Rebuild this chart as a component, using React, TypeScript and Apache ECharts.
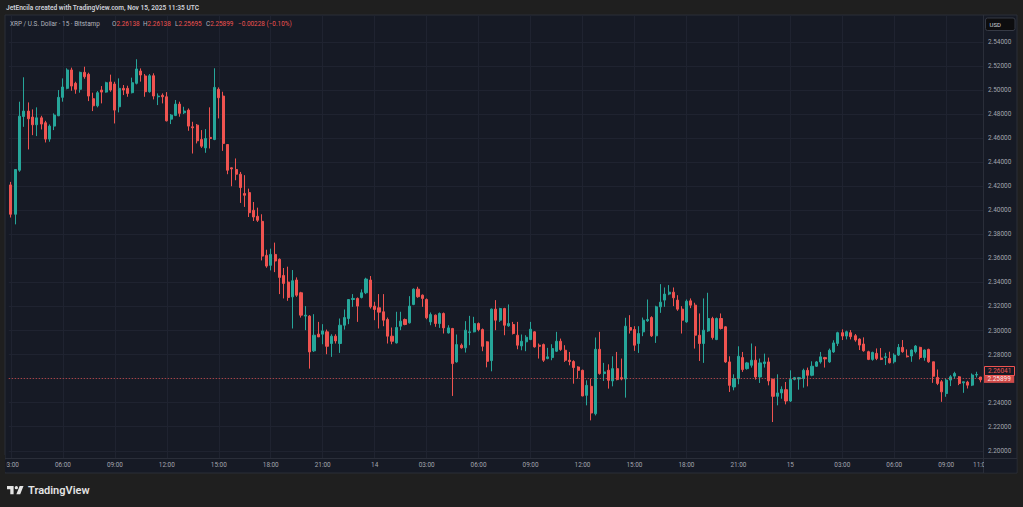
import { useEffect, useRef } from "react";
import * as echarts from "echarts";

// 15-minute XRP/USD candles, Nov 13 03:00 → Nov 15 11:00
const OPEN = [
  2.4211, 2.3967, 2.4333, 2.478, 2.4825, 2.4775, 2.4711, 2.4769, 2.4728, 2.4592,
  2.47, 2.4786, 2.4939, 2.5014, 2.5167, 2.5056, 2.5006, 2.5147, 2.5131, 2.4928,
  2.4869, 2.5, 2.4983, 2.5067, 2.505, 2.4861, 2.5014, 2.5014, 2.4978, 2.5056,
  2.5158, 2.5117, 2.4986, 2.5119, 2.4944, 2.4956, 2.4944, 2.4758, 2.4789, 2.4883,
  2.4811, 2.4833, 2.4694, 2.4708, 2.4589, 2.4519, 2.4606, 2.4589, 2.5006, 2.495,
  2.4547, 2.4353, 2.4339, 2.43, 2.4139, 2.4147, 2.4, 2.395, 2.3908, 2.3625,
  2.3542, 2.3633, 2.3592, 2.3458, 2.3403, 2.328, 2.342, 2.3314, 2.312, 2.312,
  2.2831, 2.297, 2.297, 2.2989, 2.2892, 2.2953, 2.2892, 2.3044, 2.31, 2.3258,
  2.3267, 2.3275, 2.3314, 2.342, 2.3203, 2.3189, 2.3156, 2.3092, 2.2953, 2.2897,
  2.3036, 2.3092, 2.3064, 2.3217, 2.3344, 2.3294, 2.3258, 2.3072, 2.3128, 2.3058,
  2.3142, 2.298, 2.3017, 2.2739, 2.2878, 2.2856, 2.2983, 2.2989, 2.3058, 2.3008,
  2.2906, 2.275, 2.3178, 2.3086, 2.3183, 2.3039, 2.305, 2.2961, 2.2872, 2.2906,
  2.2925, 2.2989, 2.2878, 2.2883, 2.2767, 2.2775, 2.2828, 2.2911, 2.2836, 2.2753,
  2.2742, 2.2697, 2.2669, 2.2461, 2.2536, 2.2308, 2.2844, 2.2642, 2.267, 2.2581,
  2.2683, 2.2608, 2.2597, 2.3025, 2.3008, 2.2892, 2.2989, 2.3081, 2.3108, 2.2956,
  2.3197, 2.3253, 2.3303, 2.3319, 2.3253, 2.3178, 2.3072, 2.3247, 2.3211, 2.2961,
  2.2892, 2.2997, 2.31, 2.2925, 2.31, 2.3031, 2.2739, 2.2531, 2.26, 2.2775,
  2.2683, 2.2711, 2.2753, 2.2614, 2.2725, 2.2739, 2.2594, 2.2453, 2.2481, 2.2508,
  2.2414, 2.2594, 2.2597, 2.26, 2.2669, 2.2628, 2.2703, 2.2739, 2.2775, 2.2739,
  2.2822, 2.2893, 2.2982, 2.2954, 2.2982, 2.2957, 2.2929, 2.2888, 2.2824, 2.276,
  2.281, 2.2771, 2.2776, 2.2768, 2.274, 2.2796, 2.286, 2.2788, 2.2788, 2.2824,
  2.286, 2.2776, 2.2843, 2.274, 2.261, 2.2574, 2.2476, 2.2588, 2.2621, 2.2615,
  2.2565, 2.2571, 2.2546, 2.263, 2.26138,
];
const CLOSE = [
  2.3967, 2.4339, 2.4783, 2.4825, 2.4761, 2.4711, 2.4769, 2.4717, 2.4592, 2.47,
  2.4792, 2.4939, 2.5025, 2.5167, 2.5033, 2.5006, 2.5147, 2.5111, 2.495, 2.4869,
  2.4978, 2.4983, 2.5061, 2.5, 2.4833, 2.5014, 2.5, 2.4972, 2.5061, 2.5175,
  2.5125, 2.4986, 2.5119, 2.495, 2.495, 2.4944, 2.4744, 2.4792, 2.4883, 2.4806,
  2.4825, 2.47, 2.4686, 2.4578, 2.4533, 2.4597, 2.4597, 2.5022, 2.4936, 2.4556,
  2.4333, 2.4344, 2.43, 2.4189, 2.4125, 2.398, 2.3944, 2.3917, 2.3619, 2.3536,
  2.3633, 2.3578, 2.3442, 2.3392, 2.3275, 2.3414, 2.3294, 2.3128, 2.3128, 2.2822,
  2.2961, 2.2947, 2.2997, 2.2869, 2.2953, 2.2914, 2.3044, 2.3108, 2.3258, 2.3267,
  2.3203, 2.3314, 2.3428, 2.3197, 2.3175, 2.3153, 2.3086, 2.2953, 2.2911, 2.3025,
  2.3078, 2.305, 2.3203, 2.3344, 2.3281, 2.3267, 2.3106, 2.3133, 2.3058, 2.3142,
  2.3022, 2.3022, 2.2725, 2.2883, 2.2856, 2.3003, 2.2989, 2.3058, 2.3008, 2.2869,
  2.2744, 2.3178, 2.3086, 2.3183, 2.3044, 2.3058, 2.2975, 2.2878, 2.2911, 2.2944,
  2.3011, 2.2864, 2.2869, 2.2753, 2.2781, 2.285, 2.2911, 2.2842, 2.2753, 2.2742,
  2.2692, 2.2669, 2.2456, 2.2544, 2.2314, 2.2844, 2.2642, 2.2656, 2.2586, 2.2683,
  2.2592, 2.2597, 2.3036, 2.3003, 2.2878, 2.2975, 2.3086, 2.3092, 2.2956, 2.3197,
  2.3236, 2.3303, 2.3319, 2.3272, 2.3178, 2.3086, 2.3244, 2.3211, 2.2961, 2.2892,
  2.3003, 2.31, 2.2942, 2.31, 2.3017, 2.2739, 2.2544, 2.26, 2.2786, 2.2675,
  2.2731, 2.2753, 2.2614, 2.2731, 2.2739, 2.2581, 2.2453, 2.2481, 2.2511, 2.2414,
  2.2594, 2.2608, 2.2608, 2.2669, 2.2628, 2.2703, 2.2739, 2.2781, 2.2764, 2.2836,
  2.2897, 2.2982, 2.2954, 2.299, 2.2949, 2.2921, 2.2879, 2.2832, 2.276, 2.2818,
  2.2768, 2.276, 2.2782, 2.2732, 2.2796, 2.286, 2.2824, 2.2782, 2.2838, 2.2871,
  2.2776, 2.2838, 2.274, 2.262, 2.256, 2.249, 2.2588, 2.2615, 2.2643, 2.256,
  2.2574, 2.2546, 2.263, 2.2635, 2.25899,
];
const LOW = [
  2.394, 2.3883, 2.432, 2.4694, 2.4506, 2.4625, 2.4617, 2.4672, 2.4564, 2.457,
  2.4667, 2.4783, 2.4903, 2.5006, 2.4994, 2.4969, 2.4978, 2.5094, 2.4908, 2.4825,
  2.4856, 2.4889, 2.4978, 2.4986, 2.4722, 2.4814, 2.4958, 2.4944, 2.4972, 2.5047,
  2.507, 2.4944, 2.4978, 2.4922, 2.4875, 2.4889, 2.4739, 2.4717, 2.4783, 2.4778,
  2.48, 2.4661, 2.4472, 2.4556, 2.4519, 2.4478, 2.4514, 2.4583, 2.4764, 2.4494,
  2.43, 2.42, 2.425, 2.4061, 2.4028, 2.3944, 2.3911, 2.3903, 2.3583, 2.3522,
  2.35, 2.3486, 2.3303, 2.3267, 2.3247, 2.3017, 2.328, 2.3108, 2.3003, 2.2683,
  2.2822, 2.2947, 2.2886, 2.2803, 2.2781, 2.2892, 2.2814, 2.3008, 2.3053, 2.3197,
  2.3072, 2.3267, 2.3303, 2.3183, 2.3086, 2.3017, 2.3036, 2.2892, 2.2886, 2.2892,
  2.3003, 2.3044, 2.3058, 2.3211, 2.3272, 2.3197, 2.3094, 2.3044, 2.3031, 2.3022,
  2.2975, 2.2975, 2.2456, 2.2733, 2.285, 2.2817, 2.2878, 2.2985, 2.2994, 2.2828,
  2.2694, 2.2661, 2.3003, 2.3072, 2.2961, 2.3031, 2.2967, 2.2844, 2.2836, 2.2828,
  2.292, 2.2858, 2.2767, 2.2739, 2.2761, 2.2753, 2.2822, 2.2831, 2.2739, 2.2711,
  2.2558, 2.26, 2.2453, 2.2378, 2.2253, 2.2294, 2.2633, 2.2581, 2.2517, 2.2536,
  2.2586, 2.2586, 2.2442, 2.2975, 2.2831, 2.2814, 2.2953, 2.3072, 2.2947, 2.2897,
  2.3147, 2.3197, 2.3294, 2.3203, 2.3164, 2.2975, 2.3064, 2.3186, 2.285, 2.2747,
  2.2731, 2.2989, 2.2925, 2.292, 2.3008, 2.2731, 2.2489, 2.2503, 2.2553, 2.2656,
  2.2675, 2.2692, 2.2592, 2.2564, 2.2692, 2.2544, 2.2239, 2.2378, 2.2433, 2.2386,
  2.2406, 2.2586, 2.2508, 2.2525, 2.2536, 2.262, 2.2697, 2.2725, 2.2692, 2.2731,
  2.2814, 2.2871, 2.2921, 2.2926, 2.2926, 2.2907, 2.2838, 2.2824, 2.2754, 2.2749,
  2.2754, 2.2754, 2.2713, 2.2726, 2.2726, 2.2788, 2.2815, 2.2776, 2.274, 2.281,
  2.276, 2.2749, 2.2732, 2.2565, 2.2546, 2.2407, 2.2449, 2.2538, 2.2601, 2.2546,
  2.2482, 2.2518, 2.2538, 2.261, 2.25695,
];
const HIGH = [
  2.4236, 2.434, 2.4903, 2.5106, 2.4897, 2.4839, 2.4856, 2.4786, 2.4744, 2.4714,
  2.4806, 2.5, 2.5097, 2.5181, 2.5186, 2.5069, 2.5153, 2.5194, 2.5144, 2.4978,
  2.4992, 2.5033, 2.5069, 2.5128, 2.5069, 2.5097, 2.5042, 2.5036, 2.5103, 2.5256,
  2.518, 2.5133, 2.5133, 2.5139, 2.4972, 2.4972, 2.4983, 2.48, 2.4917, 2.4903,
  2.4861, 2.4847, 2.4736, 2.4717, 2.4667, 2.4675, 2.4856, 2.5181, 2.5022, 2.4986,
  2.455, 2.4356, 2.4431, 2.4319, 2.4292, 2.418, 2.4069, 2.4022, 2.3967, 2.3672,
  2.3681, 2.3731, 2.36, 2.352, 2.3531, 2.3503, 2.3442, 2.3322, 2.3203, 2.3128,
  2.3136, 2.3072, 2.3053, 2.3008, 2.2969, 2.2969, 2.31, 2.3175, 2.3258, 2.3303,
  2.3275, 2.3342, 2.3439, 2.3453, 2.3239, 2.3303, 2.3303, 2.3108, 2.3025, 2.3156,
  2.3156, 2.31, 2.3286, 2.335, 2.3364, 2.33, 2.3267, 2.315, 2.3133, 2.315,
  2.315, 2.3044, 2.3022, 2.2967, 2.2892, 2.3078, 2.3122, 2.3114, 2.3067, 2.3017,
  2.2911, 2.3183, 2.3253, 2.3189, 2.3189, 2.3217, 2.3072, 2.3072, 2.2967, 2.2961,
  2.3072, 2.2994, 2.2892, 2.2892, 2.2856, 2.2886, 2.2989, 2.2933, 2.2878, 2.2822,
  2.2753, 2.2703, 2.2675, 2.2586, 2.26, 2.2942, 2.2989, 2.2731, 2.2719, 2.2786,
  2.2822, 2.2767, 2.3106, 2.3128, 2.3036, 2.3036, 2.3108, 2.3258, 2.3119, 2.3206,
  2.3386, 2.3358, 2.3378, 2.3358, 2.3294, 2.3203, 2.3258, 2.3267, 2.3231, 2.3142,
  2.3267, 2.3314, 2.3114, 2.3108, 2.3142, 2.3036, 2.2786, 2.2636, 2.2869, 2.2822,
  2.2739, 2.2892, 2.2869, 2.2767, 2.2808, 2.2775, 2.26, 2.2636, 2.2536, 2.2572,
  2.2669, 2.2614, 2.2614, 2.2683, 2.2692, 2.2744, 2.2747, 2.2822, 2.2781, 2.285,
  2.2919, 2.299, 2.301, 2.2999, 2.3004, 2.2971, 2.2935, 2.2943, 2.2832, 2.2824,
  2.2851, 2.2854, 2.2815, 2.2824, 2.281, 2.2888, 2.2921, 2.2843, 2.2843, 2.2879,
  2.2865, 2.2843, 2.2849, 2.274, 2.2676, 2.2588, 2.2601, 2.2629, 2.2657, 2.2621,
  2.2574, 2.2582, 2.2643, 2.2657, 2.26138,
];

const PRICE_TICKS = [
  2.2, 2.22, 2.24, 2.26, 2.28, 2.3, 2.32, 2.34, 2.36, 2.38, 2.4, 2.42, 2.44,
  2.46, 2.48, 2.5, 2.52, 2.54,
];
const LAST_PRICE = 2.25899;
const SECOND_PRICE = 2.26041;
const START_DAY = 13;
const START_HOUR = 3;
const STEP_MINUTES = 15;
const LABEL_EVERY = 12;
const NEXT_TIME_LABEL = "11:00";

const HEADER_TEXT = "JetEncila created with TradingView.com, Nov 15, 2025 11:35 UTC";
const SYMBOL_TEXT = "XRP / U.S. Dollar \u00b7 15 \u00b7 Bitstamp";
const OHLC_TEXT = [
  ["O", "2.26138"],
  ["H", "2.26138"],
  ["L", "2.25695"],
  ["C", "2.25899"],
];
const CHANGE_TEXT = "\u22120.00228 (\u22120.10%)";

const pad = (n: number) => String(n).padStart(2, "0");
const CATEGORIES = OPEN.map((_, i) => {
  const total = START_HOUR * 60 + i * STEP_MINUTES;
  const day = START_DAY + Math.floor(total / 1440);
  const mins = total % 1440;
  return `${day} ${pad(Math.floor(mins / 60))}:${pad(mins % 60)}`;
});

const TV_LOGO =
  "M14 6H2v6h6v9h6V6Zm12 15h-7l6-15h7l-6 15Zm-7-9a3 3 0 1 0 0-6 3 3 0 0 0 0 6Z";
echarts.graphic.registerShape("logo", echarts.graphic.extendPath(TV_LOGO, {}));

const UP = "#26a69a";
const DOWN = "#ef5350";
const PANEL = "#161a25";
const OUTER = "#1f1f1f";
const BORDER = "#2a2e39";
const GRID = "#1f2330";
const TEXT = "#a3a6af";
const FONT = 'Roboto, "Noto Sans", sans-serif';

export default function App() {
  const ref = useRef<HTMLDivElement>(null);
  useEffect(() => {
    if (!ref.current) return;
    const chart = echarts.init(ref.current, null, { renderer: "svg" });
    const data = OPEN.map((o, i) => [
      o,
      CLOSE[i],
      Math.min(LOW[i], o, CLOSE[i]),
      Math.max(HIGH[i], o, CLOSE[i]),
    ]);
    const ohlcX = [112, 143, 175, 206];
    chart.setOption({
      animation: false,
      backgroundColor: "transparent",
      grid: { left: 4.83, right: 40, top: 15, bottom: 49 },
      xAxis: {
        type: "category",
        data: CATEGORIES,
        boundaryGap: true,
        axisLine: { show: false },
        axisTick: { show: false },
        axisLabel: {
          interval: (i: number) => i % LABEL_EVERY === 0,
          formatter: (v: string) => {
            const [d, t] = v.split(" ");
            return t === "00:00" ? d : t;
          },
          color: TEXT,
          fontSize: 6.4,
          fontFamily: FONT,
          margin: 4,
        },
        splitLine: {
          show: true,
          interval: (i: number) => i % LABEL_EVERY === 0,
          alignWithLabel: true,
          lineStyle: { color: GRID, width: 1 },
        },
      },
      yAxis: {
        type: "value",
        position: "right",
        min: 2.194,
        max: 2.5624,
        scale: true,
        axisLine: { show: false },
        axisTick: { show: false, customValues: PRICE_TICKS },
        axisLabel: {
          customValues: PRICE_TICKS,
          formatter: (v: number) => v.toFixed(5),
          color: TEXT,
          fontSize: 6.4,
          fontFamily: FONT,
          margin: 5,
        },
        splitLine: { show: true, lineStyle: { color: GRID, width: 1 } },
      },
      series: [
        {
          type: "candlestick",
          data,
          barWidth: 2.6,
          itemStyle: {
            color: UP,
            color0: DOWN,
            borderColor: UP,
            borderColor0: DOWN,
            borderWidth: 1,
          },
          markLine: {
            silent: true,
            symbol: ["none", "none"],
            lineStyle: { color: DOWN, type: [1, 2], width: 1, opacity: 0.85 },
            label: {
              position: "end",
              distance: 1,
              formatter: LAST_PRICE.toFixed(5),
              backgroundColor: DOWN,
              color: "#ffffff",
              padding: [1.5, 3.5, 1, 3.5],
              fontSize: 6.4,
              fontFamily: FONT,
            },
            data: [{ yAxis: LAST_PRICE }],
          },
        },
      ],
      graphic: [
        {
          type: "rect",
          z: -10,
          silent: true,
          shape: { x: 5, y: 15, width: 1012, height: 458 },
          style: { fill: PANEL, stroke: BORDER, lineWidth: 1 },
        },
        {
          type: "text",
          x: 6,
          y: 8,
          z: 50,
          style: {
            text: HEADER_TEXT,
            fill: "#d1d4dc",
            fontSize: 6.6,
            fontWeight: 600,
            fontFamily: FONT,
            verticalAlign: "middle",
          },
        },
        {
          type: "text",
          x: 10,
          y: 24,
          z: 50,
          style: {
            text: SYMBOL_TEXT,
            fill: "#b2b5be",
            fontSize: 6.4,
            fontFamily: FONT,
            verticalAlign: "middle",
          },
        },
        ...OHLC_TEXT.map(([k, v], i) => ({
          type: "text",
          x: ohlcX[i],
          y: 24,
          z: 50,
          style: {
            text: `{k|${k}}{v|${v}}`,
            verticalAlign: "middle",
            fontSize: 6.4,
            fontFamily: FONT,
            rich: {
              k: { fill: "#b2b5be", fontSize: 6.4, fontFamily: FONT },
              v: { fill: DOWN, fontSize: 6.4, fontFamily: FONT },
            },
          },
        })),
        {
          type: "text",
          x: 238,
          y: 24,
          z: 50,
          style: {
            text: CHANGE_TEXT,
            fill: DOWN,
            fontSize: 6.4,
            fontFamily: FONT,
            verticalAlign: "middle",
          },
        },
        // next time label, clipped by the price scale
        {
          type: "text",
          x: 981,
          y: 465.3,
          z: 55,
          style: {
            text: NEXT_TIME_LABEL,
            fill: TEXT,
            fontSize: 6.4,
            fontFamily: FONT,
            align: "center",
            verticalAlign: "middle",
          },
        },
        // axis separators
        {
          type: "line",
          z: 40,
          shape: { x1: 983.5, y1: 15, x2: 983.5, y2: 473 },
          style: { stroke: BORDER, lineWidth: 1 },
        },
        {
          type: "line",
          z: 40,
          shape: { x1: 5, y1: 458.5, x2: 1017, y2: 458.5 },
          style: { stroke: BORDER, lineWidth: 1 },
        },
        // clip time labels at panel edges
        {
          type: "rect",
          z: 60,
          silent: true,
          shape: { x: 5, y: 459.5, width: 1.6, height: 12.5 },
          style: { fill: PANEL },
        },
        {
          type: "rect",
          z: 60,
          silent: true,
          shape: { x: 0, y: 455, width: 5, height: 22 },
          style: { fill: OUTER },
        },
        {
          type: "rect",
          z: 60,
          silent: true,
          shape: { x: 984, y: 459, width: 32.5, height: 13.5 },
          style: { fill: PANEL },
        },
        // USD box
        {
          type: "rect",
          z: 60,
          shape: { x: 985.5, y: 18, width: 29.5, height: 12.5, r: 2 },
          style: { fill: "#0d0d0f", stroke: "#363a45", lineWidth: 1 },
        },
        {
          type: "text",
          x: 989.5,
          y: 24.5,
          z: 61,
          style: {
            text: "USD",
            fill: "#d1d4dc",
            fontSize: 6,
            fontFamily: FONT,
            verticalAlign: "middle",
          },
        },
        // secondary price label
        {
          type: "rect",
          z: 60,
          shape: { x: 984.5, y: 366.5, width: 30, height: 9 },
          style: { fill: PANEL, stroke: DOWN, lineWidth: 1 },
        },
        {
          type: "text",
          x: 988,
          y: 371.2,
          z: 61,
          style: {
            text: SECOND_PRICE.toFixed(5),
            fill: DOWN,
            fontSize: 6.4,
            fontFamily: FONT,
            verticalAlign: "middle",
          },
        },
        // TradingView footer
        {
          type: "logo",
          x: 5.9,
          y: 482.7,
          scaleX: 0.55,
          scaleY: 0.55,
          z: 50,
          style: { fill: "#e4e4e4" },
        },
        {
          type: "text",
          x: 28,
          y: 490.5,
          z: 50,
          style: {
            text: "TradingView",
            fill: "#e4e4e4",
            fontSize: 11,
            fontWeight: 600,
            fontFamily: FONT,
            verticalAlign: "middle",
          },
        },
      ],
    });
    return () => chart.dispose();
  }, []);
  return (
    <div
      ref={ref}
      style={{
        position: "fixed",
        left: 0,
        top: 0,
        width: 1023,
        height: 507,
        background: OUTER,
      }}
    />
  );
}
